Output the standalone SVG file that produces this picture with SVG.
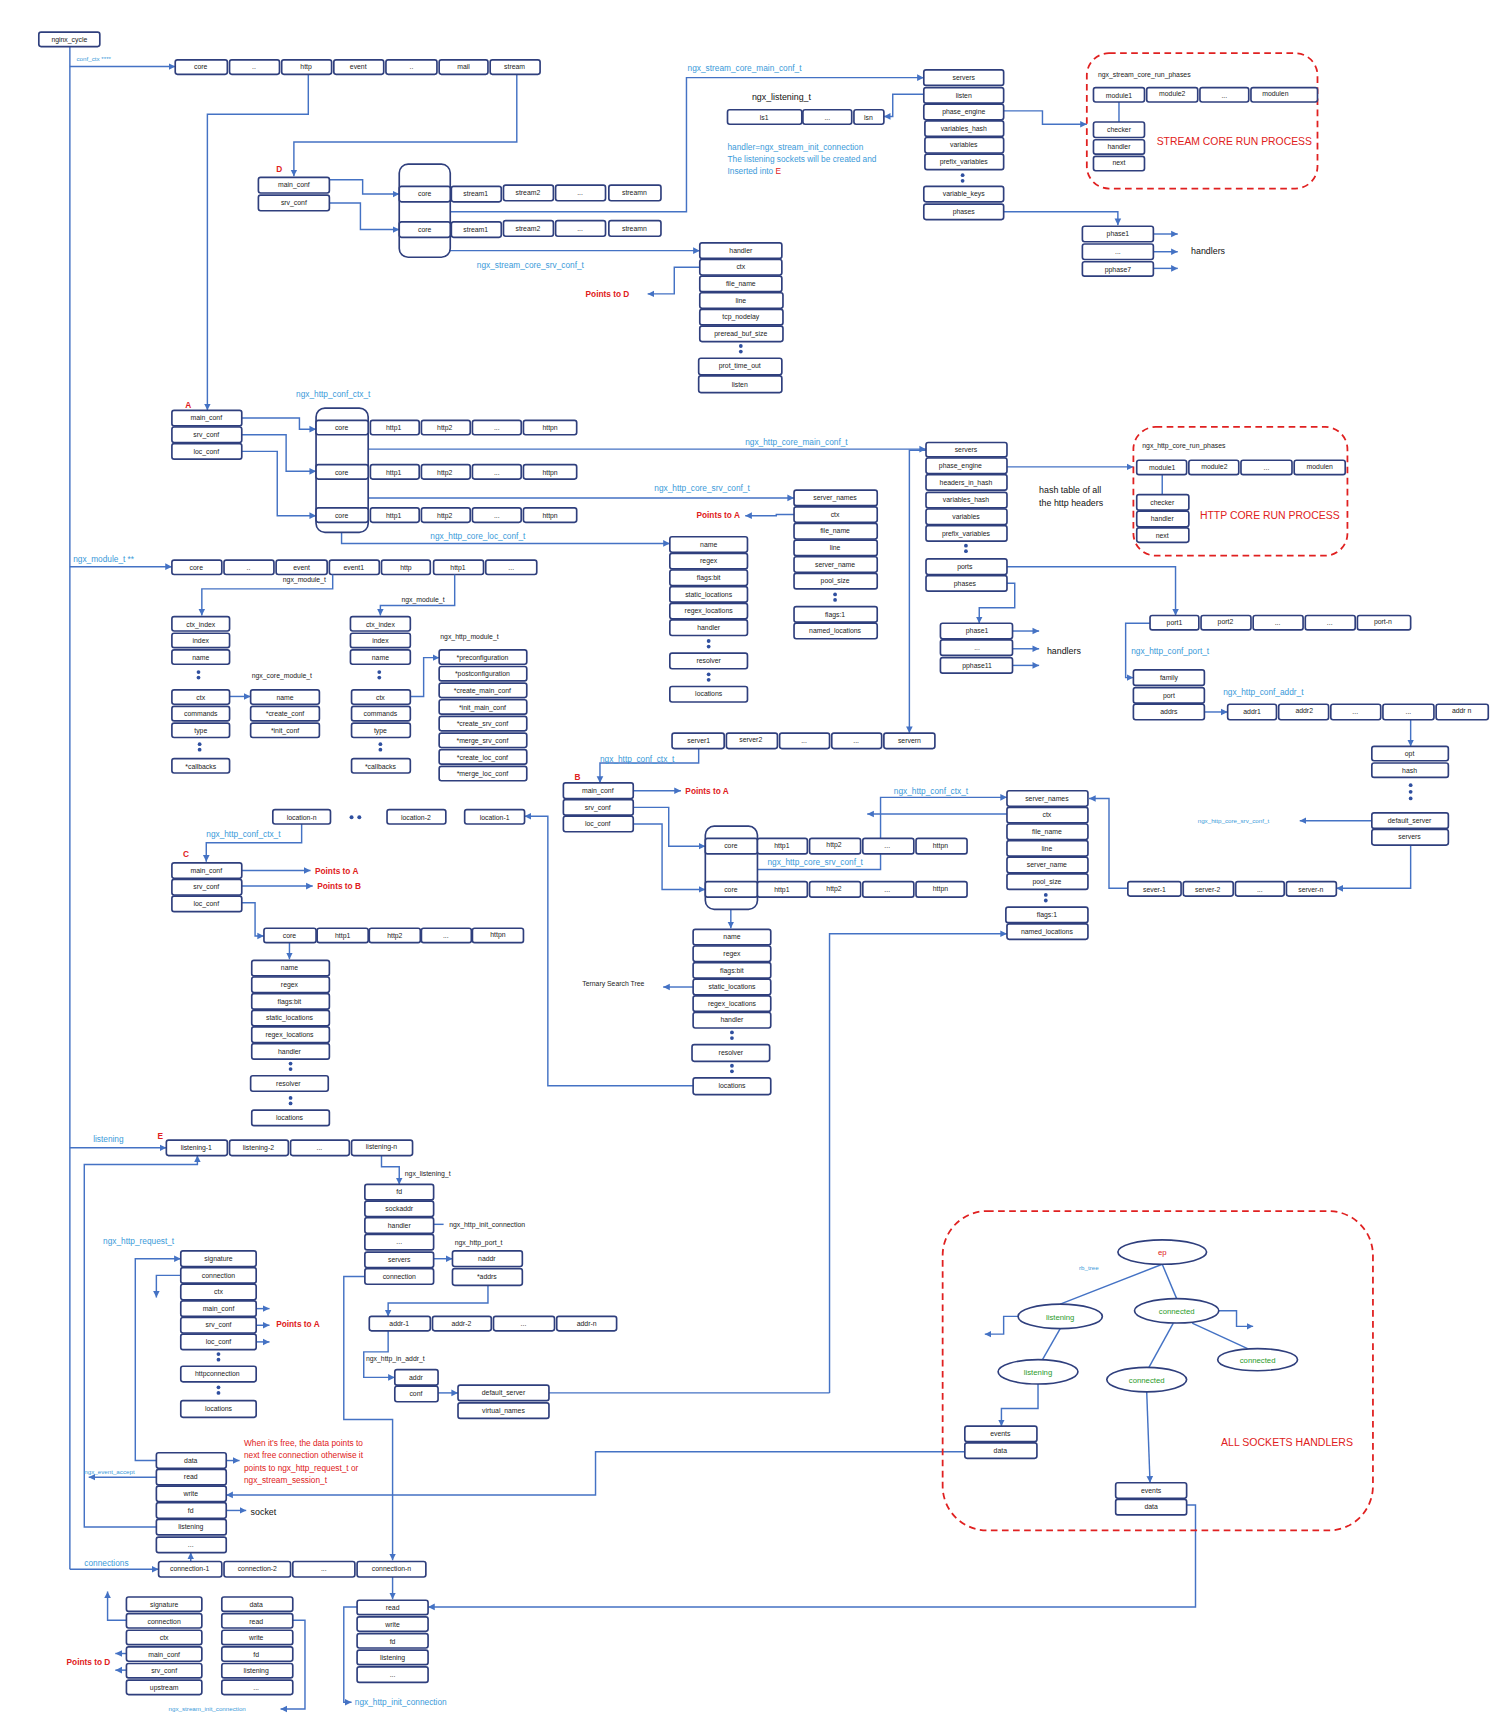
<svg xmlns="http://www.w3.org/2000/svg" width="1508" height="1736" viewBox="0 0 1508 1736">
<style>
rect.b{fill:#fff;stroke:#2f3f7d;stroke-width:1.5}
text{font-family:"Liberation Sans",Arial,sans-serif}
.t{font-size:6.2px;fill:#222;text-anchor:middle}
.k{font-size:6.2px;fill:#222}
.bl{font-size:7.5px;fill:#3a9ad9}
.sb{font-size:5.6px;fill:#3a9ad9}
.rd{font-size:7.5px;fill:#e02020;font-weight:bold}
.rn{font-size:7.5px;fill:#e02020}
.big{font-size:10.5px;fill:#e02020}
.hd{font-size:8px;fill:#111}
.g{font-size:7px;fill:#2a9a2a;text-anchor:middle}
path.c{fill:none;stroke:#4472c4;stroke-width:1.3}
path.a{fill:none;stroke:#4472c4;stroke-width:1.3;marker-end:url(#ar)}
circle.d{fill:#2f4f9f}
.dash{fill:none;stroke:#e02020;stroke-width:1.6;stroke-dasharray:6 4}
ellipse.e{fill:#fff;stroke:#2f3f7d;stroke-width:1.5}
</style>
<defs><marker id="ar" markerUnits="userSpaceOnUse" markerWidth="7" markerHeight="7" refX="6" refY="3.5" orient="auto"><path d="M0,0.5 L6,3.5 L0,6.5 z" fill="#4472c4"/></marker></defs>
<rect width="1508" height="1736" fill="#fff"/>
<g transform="scale(1.109)">
<g id="connectors">
<path class="c" d="M63,42 V1415"/>
<path class="a" d="M63,60 H158"/>
<path class="a" d="M63,511 H155"/>
<path class="a" d="M63,1035 H150"/>
<path class="a" d="M63,1415 H143"/>
<path class="a" d="M278,67 V103 H187 V370"/>
<path class="a" d="M466,67 V128 H265 V159"/>
<path class="a" d="M297,162 H327 V175 H360"/>
<path class="a" d="M297,183 H325 V207 H360"/>
<path class="a" d="M383,182 V191 H619 V70 H833"/>
<path class="a" d="M383,214 V226 H631"/>
<path class="a" d="M631,241 H608 V265 H584"/>
<path class="a" d="M833,85 H805 V105 H797"/>
<path class="a" d="M905,100 H940 V112 H980"/>
<path class="c" d="M1009,92 V110"/>
<path class="a" d="M905,191 H1008 V203"/>
<path class="a" d="M1040,211 H1062"/><path class="a" d="M1040,227 H1062"/><path class="a" d="M1040,242 H1062"/>
<path class="a" d="M218,377 H270 V387 H285"/>
<path class="a" d="M218,392 H258 V425 H285"/>
<path class="a" d="M218,407 H250 V465 H285"/>
<path class="a" d="M308,392 V405 H835"/>
<path class="a" d="M308,432 V449 H716"/>
<path class="a" d="M308,471 V490 H604"/>
<path class="a" d="M716,464 H700 V465 H672"/>
<path class="a" d="M908,421 H1022"/>
<path class="c" d="M1048,428 V446"/>
<path class="a" d="M908,526 H915 V548 H883 V562"/>
<path class="a" d="M913,569 H937"/><path class="a" d="M913,585 H937"/><path class="a" d="M913,600 H937"/>
<path class="a" d="M908,511 H1060 V555"/>
<path class="a" d="M1037,562 H1015 V611 H1022"/>
<path class="a" d="M1086,642 H1107"/>
<path class="a" d="M1272,649 V673"/>
<path class="a" d="M1237,740 H1172"/>
<path class="a" d="M1272,762 V801 H1205"/>
<path class="a" d="M1017,801 H1000 V720 H982"/>
<path class="a" d="M835,406 H820 V661"/>
<path class="a" d="M630,675 V688 H541 V706"/>
<path class="a" d="M571,713 H614"/>
<path class="a" d="M571,728 H603 V763 H636"/>
<path class="a" d="M571,743 H597 V802 H636"/>
<path class="a" d="M659,770 V784 H794 V719 H908"/>
<path class="a" d="M908,734 H782"/>
<path class="a" d="M659,809 V837"/>
<path class="a" d="M625,890 H598"/>
<path class="a" d="M625,979 H494 V736 H473"/>
<path class="a" d="M272,743 V760 H186 V777"/>
<path class="a" d="M218,785 H280"/>
<path class="a" d="M218,799 H282"/>
<path class="a" d="M218,814 H230 V844 H238"/>
<path class="a" d="M261,850 V865"/>
<path class="a" d="M748,1256 V842 H908" />
<path class="c" d="M495,1256 H748"/>
<path class="a" d="M344,1042 V1052 H360 V1068"/>
<path class="c" d="M391,1104 H400"/>
<path class="a" d="M391,1135 H408"/>
<path class="a" d="M440,1158 V1175 H350 V1187"/>
<path class="a" d="M350,1200 V1219 H328 V1242 H356"/>
<path class="a" d="M395,1256 H413"/>
<path class="a" d="M329,1151 H310 V1280 H354 V1407"/>
<path class="a" d="M231,1180 H243"/><path class="a" d="M231,1195 H243"/><path class="a" d="M231,1210 H243"/>
<path class="a" d="M163,1150 H141 V1170"/>
<path class="a" d="M141,1317 H122 V1135 H163"/>
<path class="a" d="M204,1317 H216"/>
<path class="a" d="M141,1332 H80"/>
<path class="a" d="M870,1309 H537 V1348 H204"/>
<path class="a" d="M204,1362 H222"/>
<path class="a" d="M141,1377 H76 V1050 H178 V1042"/>
<path class="a" d="M172,1408 V1400"/>
<path class="a" d="M114,1461 H97 V1435"/>
<path class="a" d="M114,1491 H104"/>
<path class="a" d="M114,1506 H104"/>
<path class="a" d="M264,1461 H275 V1541 H253"/>
<path class="a" d="M354,1422 V1442"/>
<path class="a" d="M1070,1357 H1078 V1449 H386"/>
<path class="a" d="M322,1449 H310 V1535 H317"/>
<path class="c" d="M1048,1140 L956,1176"/>
<path class="c" d="M1048,1140 L1061,1171"/>
<path class="a" d="M918,1187 H905 V1203 H888"/>
<path class="a" d="M1099,1182 H1115 V1196 H1130"/>
<path class="c" d="M1075,1193 L1125,1216"/>
<path class="c" d="M1058,1193 L1036,1233"/>
<path class="c" d="M956,1198 L940,1226"/>
<path class="a" d="M936,1248 V1270 H903 V1286"/>
<path class="a" d="M1034,1255 L1037,1337"/>
</g>

<g id="nginx_cycle"><rect class="b" x="35" y="29" width="55" height="13" rx="2"/><text class="t" x="62.5" y="37.5">nginx_cycle</text></g>
<text class="sb" x="69" y="55">conf_ctx ****</text>
<g id="conf_ctx">
<rect class="b" x="158" y="54" width="47" height="13" rx="2"/><text class="t" x="181" y="62.5">core</text>
<rect class="b" x="207" y="54" width="45" height="13" rx="2"/><text class="t" x="229" y="62.5">..</text>
<rect class="b" x="254" y="54" width="45" height="13" rx="2"/><text class="t" x="276" y="62.5">http</text>
<rect class="b" x="301" y="54" width="45" height="13" rx="2"/><text class="t" x="323" y="62.5">event</text>
<rect class="b" x="348" y="54" width="46" height="13" rx="2"/><text class="t" x="371" y="62.5">..</text>
<rect class="b" x="396" y="54" width="44" height="13" rx="2"/><text class="t" x="418" y="62.5">mail</text>
<rect class="b" x="442" y="54" width="45" height="13" rx="2"/><text class="t" x="464" y="62.5">stream</text>
</g>

<text class="rd" x="249" y="155">D</text>
<g id="stream_ctx_D">
<rect class="b" x="233" y="160" width="64" height="14" rx="2"/><text class="t" x="265" y="169">main_conf</text>
<rect class="b" x="233" y="176" width="64" height="14" rx="2"/><text class="t" x="265" y="185">srv_conf</text>
</g>
<g id="stream_conf">
<rect class="b" x="360" y="148" width="46" height="84" rx="8"/>
<rect class="b" x="360" y="168" width="46" height="14" rx="2"/><text class="t" x="383" y="177">core</text>
<rect class="b" x="407" y="168" width="45" height="14" rx="2"/><text class="t" x="429" y="177">stream1</text>
<rect class="b" x="454" y="167" width="45" height="14" rx="2"/><text class="t" x="476" y="176">stream2</text>
<rect class="b" x="501" y="167" width="45" height="14" rx="2"/><text class="t" x="523" y="176">...</text>
<rect class="b" x="549" y="167" width="47" height="14" rx="2"/><text class="t" x="572" y="176">streamn</text>
<rect class="b" x="360" y="200" width="46" height="14" rx="2"/><text class="t" x="383" y="209">core</text>
<rect class="b" x="407" y="200" width="45" height="14" rx="2"/><text class="t" x="429" y="209">stream1</text>
<rect class="b" x="454" y="199" width="45" height="14" rx="2"/><text class="t" x="476" y="208">stream2</text>
<rect class="b" x="501" y="199" width="45" height="14" rx="2"/><text class="t" x="523" y="208">...</text>
<rect class="b" x="549" y="199" width="47" height="14" rx="2"/><text class="t" x="572" y="208">streamn</text>
</g>
<text class="bl" x="620" y="64">ngx_stream_core_main_conf_t</text>
<text class="bl" x="430" y="242">ngx_stream_core_srv_conf_t</text>
<text class="rd" x="528" y="268">Points to D</text>

<g id="stream_srv_conf">
<rect class="b" x="631" y="219" width="74" height="14" rx="2"/><text class="t" x="668" y="228">handler</text>
<rect class="b" x="631" y="234" width="74" height="14" rx="2"/><text class="t" x="668" y="243">ctx</text>
<rect class="b" x="631" y="249" width="74" height="14" rx="2"/><text class="t" x="668" y="258">file_name</text>
<rect class="b" x="631" y="264" width="75" height="14" rx="2"/><text class="t" x="668" y="273">line</text>
<rect class="b" x="631" y="279" width="75" height="14" rx="2"/><text class="t" x="668" y="288">tcp_nodelay</text>
<rect class="b" x="631" y="294" width="75" height="14" rx="2"/><text class="t" x="668" y="303">preread_buf_size</text>
<circle class="d" cx="668" cy="312" r="1.7"/><circle class="d" cx="668" cy="317" r="1.7"/>
<rect class="b" x="630" y="323" width="75" height="15" rx="2"/><text class="t" x="667" y="332">prot_time_out</text>
<rect class="b" x="630" y="339" width="75" height="15" rx="2"/><text class="t" x="667" y="349">listen</text>
</g>

<text class="hd" x="678" y="90">ngx_listening_t</text>
<g id="stream_listening">
<rect class="b" x="656" y="99" width="67" height="13" rx="2"/><text class="t" x="689" y="108">ls1</text>
<rect class="b" x="724" y="99" width="44" height="13" rx="2"/><text class="t" x="746" y="108">...</text>
<rect class="b" x="770" y="99" width="27" height="13" rx="2"/><text class="t" x="783" y="108">lsn</text>
</g>
<text class="bl" x="656" y="135">handler=ngx_stream_init_connection</text>
<text class="bl" x="656" y="146">The listening sockets will be created and</text>
<text class="bl" x="656" y="157">Inserted into <tspan fill="#e02020">E</tspan></text>

<g id="stream_main_conf">
<rect class="b" x="833" y="63" width="72" height="14" rx="2"/><text class="t" x="869" y="72">servers</text>
<rect class="b" x="833" y="79" width="72" height="14" rx="2"/><text class="t" x="869" y="88">listen</text>
<rect class="b" x="833" y="94" width="72" height="14" rx="2"/><text class="t" x="869" y="103">phase_engine</text>
<rect class="b" x="834" y="109" width="71" height="14" rx="2"/><text class="t" x="869" y="118">variables_hash</text>
<rect class="b" x="834" y="124" width="71" height="14" rx="2"/><text class="t" x="869" y="133">variables</text>
<rect class="b" x="834" y="139" width="71" height="14" rx="2"/><text class="t" x="869" y="148">prefix_variables</text>
<circle class="d" cx="868" cy="158" r="1.7"/><circle class="d" cx="868" cy="163" r="1.7"/>
<rect class="b" x="833" y="168" width="72" height="14" rx="2"/><text class="t" x="869" y="177">variable_keys</text>
<rect class="b" x="833" y="184" width="72" height="14" rx="2"/><text class="t" x="869" y="193">phases</text>
</g>

<g id="stream_run_phases">
<rect class="dash" x="980" y="48" width="208" height="122" rx="20"/>
<text class="k" x="990" y="69" font-size="5.8">ngx_stream_core_run_phases</text>
<rect class="b" x="986" y="79" width="46" height="13" rx="2"/><text class="t" x="1009" y="88">module1</text>
<rect class="b" x="1034" y="79" width="46" height="13" rx="2"/><text class="t" x="1057" y="87">module2</text>
<rect class="b" x="1082" y="79" width="44" height="13" rx="2"/><text class="t" x="1104" y="88">...</text>
<rect class="b" x="1128" y="79" width="60" height="13" rx="2"/><text class="t" x="1150" y="87">modulen</text>
<rect class="b" x="986" y="110" width="46" height="14" rx="2"/><text class="t" x="1009" y="119">checker</text>
<rect class="b" x="986" y="126" width="46" height="13" rx="2"/><text class="t" x="1009" y="134">handler</text>
<rect class="b" x="986" y="141" width="46" height="13" rx="2"/><text class="t" x="1009" y="149">next</text>
<text class="big" x="1043" y="131" textLength="140" lengthAdjust="spacingAndGlyphs">STREAM CORE RUN PROCESS</text>
</g>
<g id="stream_phases">
<rect class="b" x="976" y="204" width="64" height="14" rx="2"/><text class="t" x="1008" y="213">phase1</text>
<rect class="b" x="976" y="220" width="64" height="14" rx="2"/><text class="t" x="1008" y="229">...</text>
<rect class="b" x="976" y="236" width="64" height="13" rx="2"/><text class="t" x="1008" y="245">pphase7</text>
<text class="hd" x="1074" y="229">handlers</text>
</g>

<text class="bl" x="267" y="358">ngx_http_conf_ctx_t</text>
<text class="rd" x="167" y="368">A</text>
<g id="http_ctx_A">
<rect class="b" x="155" y="370" width="63" height="14" rx="2"/><text class="t" x="186" y="379">main_conf</text>
<rect class="b" x="155" y="385" width="63" height="14" rx="2"/><text class="t" x="186" y="394">srv_conf</text>
<rect class="b" x="155" y="400" width="63" height="14" rx="2"/><text class="t" x="186" y="409">loc_conf</text>
</g>
<g id="http_conf_A">
<rect class="b" x="285" y="368" width="47" height="112" rx="8"/>
<rect class="b" x="285" y="379" width="47" height="13" rx="2"/><text class="t" x="308" y="388">core</text>
<rect class="b" x="334" y="379" width="44" height="13" rx="2"/><text class="t" x="355" y="388">http1</text>
<rect class="b" x="380" y="379" width="44" height="13" rx="2"/><text class="t" x="401" y="388">http2</text>
<rect class="b" x="426" y="379" width="44" height="13" rx="2"/><text class="t" x="448" y="388">...</text>
<rect class="b" x="472" y="379" width="48" height="13" rx="2"/><text class="t" x="496" y="388">httpn</text>
<rect class="b" x="285" y="419" width="47" height="13" rx="2"/><text class="t" x="308" y="428">core</text>
<rect class="b" x="334" y="419" width="44" height="13" rx="2"/><text class="t" x="355" y="428">http1</text>
<rect class="b" x="380" y="419" width="44" height="13" rx="2"/><text class="t" x="401" y="428">http2</text>
<rect class="b" x="426" y="419" width="44" height="13" rx="2"/><text class="t" x="448" y="428">...</text>
<rect class="b" x="472" y="419" width="48" height="13" rx="2"/><text class="t" x="496" y="428">httpn</text>
<rect class="b" x="285" y="458" width="47" height="13" rx="2"/><text class="t" x="308" y="467">core</text>
<rect class="b" x="334" y="458" width="44" height="13" rx="2"/><text class="t" x="355" y="467">http1</text>
<rect class="b" x="380" y="458" width="44" height="13" rx="2"/><text class="t" x="401" y="467">http2</text>
<rect class="b" x="426" y="458" width="44" height="13" rx="2"/><text class="t" x="448" y="467">...</text>
<rect class="b" x="472" y="458" width="48" height="13" rx="2"/><text class="t" x="496" y="467">httpn</text>
</g>
<text class="bl" x="672" y="401">ngx_http_core_main_conf_t</text>
<text class="bl" x="590" y="443">ngx_http_core_srv_conf_t</text>
<text class="bl" x="388" y="486">ngx_http_core_loc_conf_t</text>
<text class="rd" x="628" y="467">Points to A</text>

<g id="http_srv_conf_1">
<rect class="b" x="716" y="442" width="75" height="14" rx="2"/><text class="t" x="753" y="451">server_names</text>
<rect class="b" x="716" y="457" width="75" height="14" rx="2"/><text class="t" x="753" y="466">ctx</text>
<rect class="b" x="716" y="472" width="75" height="14" rx="2"/><text class="t" x="753" y="481">file_name</text>
<rect class="b" x="716" y="487" width="75" height="14" rx="2"/><text class="t" x="753" y="496">line</text>
<rect class="b" x="716" y="502" width="75" height="14" rx="2"/><text class="t" x="753" y="511">server_name</text>
<rect class="b" x="716" y="517" width="75" height="14" rx="2"/><text class="t" x="753" y="526">pool_size</text>
<circle class="d" cx="753" cy="536" r="1.7"/><circle class="d" cx="753" cy="541" r="1.7"/>
<rect class="b" x="716" y="547" width="75" height="14" rx="2"/><text class="t" x="753" y="556">flags:1</text>
<rect class="b" x="716" y="562" width="75" height="14" rx="2"/><text class="t" x="753" y="571">named_locations</text>
</g>
<g id="http_loc_conf_1">
<rect class="b" x="604" y="484" width="70" height="14" rx="2"/><text class="t" x="639" y="493">name</text>
<rect class="b" x="604" y="499" width="70" height="14" rx="2"/><text class="t" x="639" y="508">regex</text>
<rect class="b" x="604" y="514" width="70" height="14" rx="2"/><text class="t" x="639" y="523">flags:bit</text>
<rect class="b" x="604" y="529" width="70" height="14" rx="2"/><text class="t" x="639" y="538">static_locations</text>
<rect class="b" x="604" y="544" width="70" height="14" rx="2"/><text class="t" x="639" y="553">regex_locations</text>
<rect class="b" x="604" y="559" width="70" height="14" rx="2"/><text class="t" x="639" y="568">handler</text>
<circle class="d" cx="639" cy="578" r="1.7"/><circle class="d" cx="639" cy="583" r="1.7"/>
<rect class="b" x="604" y="589" width="70" height="14" rx="2"/><text class="t" x="639" y="598">resolver</text>
<circle class="d" cx="639" cy="608" r="1.7"/><circle class="d" cx="639" cy="613" r="1.7"/>
<rect class="b" x="604" y="619" width="70" height="14" rx="2"/><text class="t" x="639" y="628">locations</text>
</g>
<g id="http_main_conf">
<rect class="b" x="835" y="399" width="73" height="13" rx="2"/><text class="t" x="871" y="408">servers</text>
<rect class="b" x="835" y="413" width="73" height="14" rx="2"/><text class="t" x="866" y="422">phase_engine</text>
<rect class="b" x="835" y="428" width="73" height="14" rx="2"/><text class="t" x="871" y="437">headers_in_hash</text>
<rect class="b" x="835" y="444" width="73" height="14" rx="2"/><text class="t" x="871" y="453">variables_hash</text>
<rect class="b" x="835" y="459" width="73" height="14" rx="2"/><text class="t" x="871" y="468">variables</text>
<rect class="b" x="835" y="474" width="73" height="14" rx="2"/><text class="t" x="871" y="483">prefix_variables</text>
<circle class="d" cx="871" cy="492" r="1.7"/><circle class="d" cx="871" cy="497" r="1.7"/>
<rect class="b" x="835" y="504" width="73" height="14" rx="2"/><text class="t" x="870" y="513">ports</text>
<rect class="b" x="835" y="519" width="73" height="14" rx="2"/><text class="t" x="870" y="528">phases</text>
</g>
<text class="hd" x="937" y="445">hash table of all</text>
<text class="hd" x="937" y="456">the http headers</text>

<g id="http_run_phases">
<rect class="dash" x="1022" y="385" width="193" height="116" rx="20"/>
<text class="k" x="1030" y="404" font-size="5.8">ngx_http_core_run_phases</text>
<rect class="b" x="1025" y="415" width="45" height="13" rx="2"/><text class="t" x="1048" y="424">module1</text>
<rect class="b" x="1072" y="415" width="45" height="13" rx="2"/><text class="t" x="1095" y="423">module2</text>
<rect class="b" x="1119" y="415" width="46" height="13" rx="2"/><text class="t" x="1142" y="424">...</text>
<rect class="b" x="1167" y="415" width="46" height="13" rx="2"/><text class="t" x="1190" y="423">modulen</text>
<rect class="b" x="1025" y="446" width="47" height="14" rx="2"/><text class="t" x="1048" y="455">checker</text>
<rect class="b" x="1025" y="461" width="47" height="14" rx="2"/><text class="t" x="1048" y="470">handler</text>
<rect class="b" x="1025" y="476" width="47" height="13" rx="2"/><text class="t" x="1048" y="485">next</text>
<text class="big" x="1082" y="468" textLength="126" lengthAdjust="spacingAndGlyphs">HTTP CORE RUN PROCESS</text>
</g>
<g id="http_phases">
<rect class="b" x="848" y="562" width="65" height="14" rx="2"/><text class="t" x="881" y="571">phase1</text>
<rect class="b" x="848" y="577" width="65" height="14" rx="2"/><text class="t" x="881" y="586">...</text>
<rect class="b" x="848" y="593" width="65" height="14" rx="2"/><text class="t" x="881" y="602">pphase11</text>
<text class="hd" x="944" y="590">handlers</text>
</g>
<g id="ports">
<rect class="b" x="1037" y="555" width="44" height="13" rx="2"/><text class="t" x="1059" y="564">port1</text>
<rect class="b" x="1083" y="555" width="45" height="13" rx="2"/><text class="t" x="1105" y="563">port2</text>
<rect class="b" x="1130" y="555" width="45" height="13" rx="2"/><text class="t" x="1152" y="564">...</text>
<rect class="b" x="1177" y="555" width="45" height="13" rx="2"/><text class="t" x="1199" y="564">...</text>
<rect class="b" x="1224" y="555" width="48" height="13" rx="2"/><text class="t" x="1247" y="563">port-n</text>
</g>
<text class="bl" x="1020" y="590">ngx_http_conf_port_t</text>
<g id="conf_port">
<rect class="b" x="1022" y="604" width="64" height="14" rx="2"/><text class="t" x="1054" y="613">family</text>
<rect class="b" x="1022" y="620" width="64" height="14" rx="2"/><text class="t" x="1054" y="629">port</text>
<rect class="b" x="1022" y="635" width="64" height="14" rx="2"/><text class="t" x="1054" y="644">addrs</text>
</g>
<text class="bl" x="1103" y="627">ngx_http_conf_addr_t</text>
<g id="addrs">
<rect class="b" x="1107" y="635" width="44" height="14" rx="2"/><text class="t" x="1129" y="644">addr1</text>
<rect class="b" x="1153" y="635" width="45" height="14" rx="2"/><text class="t" x="1176" y="643">addr2</text>
<rect class="b" x="1200" y="635" width="45" height="14" rx="2"/><text class="t" x="1222" y="644">...</text>
<rect class="b" x="1247" y="635" width="46" height="14" rx="2"/><text class="t" x="1270" y="644">...</text>
<rect class="b" x="1295" y="635" width="47" height="14" rx="2"/><text class="t" x="1318" y="643">addr n</text>
</g>
<g id="conf_addr">
<rect class="b" x="1237" y="673" width="69" height="13" rx="2"/><text class="t" x="1271" y="682">opt</text>
<rect class="b" x="1237" y="688" width="69" height="13" rx="2"/><text class="t" x="1271" y="697">hash</text>
<circle class="d" cx="1272" cy="708" r="1.7"/><circle class="d" cx="1272" cy="714" r="1.7"/><circle class="d" cx="1272" cy="720" r="1.7"/>
<rect class="b" x="1237" y="733" width="69" height="14" rx="2"/><text class="t" x="1271" y="742">default_server</text>
<rect class="b" x="1237" y="748" width="69" height="14" rx="2"/><text class="t" x="1271" y="757">servers</text>
</g>
<text class="sb" x="1080" y="742">ngx_http_core_srv_conf_t</text>
<g id="servers_2">
<rect class="b" x="1017" y="795" width="48" height="13" rx="2"/><text class="t" x="1041" y="804">sever-1</text>
<rect class="b" x="1067" y="795" width="45" height="13" rx="2"/><text class="t" x="1089" y="804">server-2</text>
<rect class="b" x="1114" y="795" width="44" height="13" rx="2"/><text class="t" x="1136" y="804">...</text>
<rect class="b" x="1160" y="795" width="45" height="13" rx="2"/><text class="t" x="1182" y="804">server-n</text>
</g>
<g id="http_srv_conf_2">
<rect class="b" x="908" y="713" width="73" height="14" rx="2"/><text class="t" x="944" y="722">server_names</text>
<rect class="b" x="908" y="728" width="73" height="14" rx="2"/><text class="t" x="944" y="737">ctx</text>
<rect class="b" x="908" y="743" width="73" height="14" rx="2"/><text class="t" x="944" y="752">file_name</text>
<rect class="b" x="908" y="758" width="73" height="14" rx="2"/><text class="t" x="944" y="767">line</text>
<rect class="b" x="908" y="773" width="73" height="14" rx="2"/><text class="t" x="944" y="782">server_name</text>
<rect class="b" x="908" y="788" width="73" height="14" rx="2"/><text class="t" x="944" y="797">pool_size</text>
<circle class="d" cx="943" cy="807" r="1.7"/><circle class="d" cx="943" cy="812" r="1.7"/>
<rect class="b" x="907" y="818" width="74" height="14" rx="2"/><text class="t" x="944" y="827">flags:1</text>
<rect class="b" x="908" y="833" width="73" height="14" rx="2"/><text class="t" x="944" y="842">named_locations</text>
</g>
<g id="servers_1">
<rect class="b" x="606" y="661" width="47" height="14" rx="2"/><text class="t" x="630" y="670">server1</text>
<rect class="b" x="655" y="661" width="46" height="14" rx="2"/><text class="t" x="677" y="669">server2</text>
<rect class="b" x="703" y="661" width="45" height="14" rx="2"/><text class="t" x="725" y="670">...</text>
<rect class="b" x="750" y="661" width="45" height="14" rx="2"/><text class="t" x="772" y="670">...</text>
<rect class="b" x="797" y="661" width="46" height="14" rx="2"/><text class="t" x="820" y="670">servern</text>
</g>
<text class="bl" x="541" y="687">ngx_http_conf_ctx_t</text>
<text class="rd" x="518" y="703">B</text>
<g id="http_ctx_B">
<rect class="b" x="508" y="706" width="63" height="14" rx="2"/><text class="t" x="539" y="715">main_conf</text>
<rect class="b" x="508" y="721" width="63" height="14" rx="2"/><text class="t" x="539" y="730">srv_conf</text>
<rect class="b" x="508" y="736" width="63" height="14" rx="2"/><text class="t" x="539" y="745">loc_conf</text>
</g>
<text class="rd" x="618" y="716">Points to A</text>
<text class="bl" x="806" y="716">ngx_http_conf_ctx_t</text>
<text class="bl" x="692" y="780">ngx_http_core_srv_conf_t</text>
<g id="http_conf_B">
<rect class="b" x="636" y="745" width="47" height="75" rx="8"/>
<rect class="b" x="636" y="756" width="47" height="14" rx="2"/><text class="t" x="659" y="765">core</text>
<rect class="b" x="683" y="756" width="45" height="14" rx="2"/><text class="t" x="705" y="765">http1</text>
<rect class="b" x="730" y="756" width="46" height="14" rx="2"/><text class="t" x="752" y="764">http2</text>
<rect class="b" x="778" y="756" width="46" height="14" rx="2"/><text class="t" x="800" y="765">...</text>
<rect class="b" x="826" y="756" width="46" height="14" rx="2"/><text class="t" x="848" y="765">httpn</text>
<rect class="b" x="636" y="795" width="47" height="14" rx="2"/><text class="t" x="659" y="804">core</text>
<rect class="b" x="683" y="795" width="45" height="14" rx="2"/><text class="t" x="705" y="804">http1</text>
<rect class="b" x="730" y="795" width="46" height="14" rx="2"/><text class="t" x="752" y="803">http2</text>
<rect class="b" x="778" y="795" width="46" height="14" rx="2"/><text class="t" x="800" y="804">...</text>
<rect class="b" x="826" y="795" width="46" height="14" rx="2"/><text class="t" x="848" y="803">httpn</text>
</g>
<g id="http_loc_conf_2">
<rect class="b" x="625" y="838" width="70" height="14" rx="2"/><text class="t" x="660" y="847">name</text>
<rect class="b" x="625" y="853" width="70" height="14" rx="2"/><text class="t" x="660" y="862">regex</text>
<rect class="b" x="625" y="868" width="70" height="14" rx="2"/><text class="t" x="660" y="877">flags:bit</text>
<rect class="b" x="625" y="883" width="70" height="14" rx="2"/><text class="t" x="660" y="892">static_locations</text>
<rect class="b" x="625" y="898" width="70" height="14" rx="2"/><text class="t" x="660" y="907">regex_locations</text>
<rect class="b" x="625" y="913" width="70" height="14" rx="2"/><text class="t" x="660" y="922">handler</text>
<circle class="d" cx="660" cy="931" r="1.7"/><circle class="d" cx="660" cy="936" r="1.7"/>
<rect class="b" x="624" y="942" width="70" height="15" rx="2"/><text class="t" x="659" y="951">resolver</text>
<circle class="d" cx="660" cy="961" r="1.7"/><circle class="d" cx="660" cy="966" r="1.7"/>
<rect class="b" x="625" y="972" width="70" height="15" rx="2"/><text class="t" x="660" y="981">locations</text>
</g>
<text class="k" x="525" y="889">Ternary Search Tree</text>
<g id="locations_row">
<rect class="b" x="246" y="730" width="52" height="13" rx="2"/><text class="t" x="272" y="739">location-n</text>
<circle class="d" cx="317" cy="737" r="1.8"/><circle class="d" cx="324" cy="737" r="1.8"/>
<rect class="b" x="349" y="730" width="53" height="13" rx="2"/><text class="t" x="375" y="739">location-2</text>
<rect class="b" x="419" y="730" width="54" height="13" rx="2"/><text class="t" x="446" y="739">location-1</text>
</g>
<text class="bl" x="186" y="755">ngx_http_conf_ctx_t</text>
<text class="rd" x="165" y="773">C</text>
<g id="http_ctx_C">
<rect class="b" x="155" y="778" width="63" height="14" rx="2"/><text class="t" x="186" y="787">main_conf</text>
<rect class="b" x="155" y="793" width="63" height="14" rx="2"/><text class="t" x="186" y="802">srv_conf</text>
<rect class="b" x="155" y="808" width="63" height="14" rx="2"/><text class="t" x="186" y="817">loc_conf</text>
</g>
<text class="rd" x="284" y="788">Points to A</text>
<text class="rd" x="286" y="802">Points to B</text>
<g id="http_conf_C">
<rect class="b" x="238" y="837" width="47" height="13" rx="2"/><text class="t" x="261" y="846">core</text>
<rect class="b" x="286" y="837" width="46" height="13" rx="2"/><text class="t" x="309" y="846">http1</text>
<rect class="b" x="333" y="837" width="46" height="13" rx="2"/><text class="t" x="356" y="846">http2</text>
<rect class="b" x="380" y="837" width="45" height="13" rx="2"/><text class="t" x="402" y="846">...</text>
<rect class="b" x="426" y="837" width="46" height="13" rx="2"/><text class="t" x="449" y="845">httpn</text>
</g>
<g id="http_loc_conf_3">
<rect class="b" x="227" y="866" width="70" height="14" rx="2"/><text class="t" x="261" y="875">name</text>
<rect class="b" x="227" y="881" width="70" height="14" rx="2"/><text class="t" x="261" y="890">regex</text>
<rect class="b" x="227" y="896" width="70" height="14" rx="2"/><text class="t" x="261" y="905">flags:bit</text>
<rect class="b" x="227" y="911" width="70" height="14" rx="2"/><text class="t" x="261" y="920">static_locations</text>
<rect class="b" x="227" y="926" width="70" height="14" rx="2"/><text class="t" x="261" y="935">regex_locations</text>
<rect class="b" x="227" y="941" width="70" height="14" rx="2"/><text class="t" x="261" y="950">handler</text>
<circle class="d" cx="262" cy="959" r="1.7"/><circle class="d" cx="262" cy="964" r="1.7"/>
<rect class="b" x="226" y="970" width="70" height="14" rx="2"/><text class="t" x="260" y="979">resolver</text>
<circle class="d" cx="262" cy="990" r="1.7"/><circle class="d" cx="262" cy="995" r="1.7"/>
<rect class="b" x="227" y="1001" width="70" height="14" rx="2"/><text class="t" x="261" y="1010">locations</text>
</g>

<text class="bl" x="66" y="507">ngx_module_t **</text>
<g id="modules_row">
<rect class="b" x="155" y="505" width="45" height="13" rx="2"/><text class="t" x="177" y="514">core</text>
<rect class="b" x="202" y="505" width="45" height="13" rx="2"/><text class="t" x="224" y="514">..</text>
<rect class="b" x="249" y="505" width="46" height="13" rx="2"/><text class="t" x="272" y="514">event</text>
<rect class="b" x="297" y="505" width="45" height="13" rx="2"/><text class="t" x="319" y="514">event1</text>
<rect class="b" x="344" y="505" width="44" height="13" rx="2"/><text class="t" x="366" y="514">http</text>
<rect class="b" x="391" y="505" width="45" height="13" rx="2"/><text class="t" x="413" y="514">http1</text>
<rect class="b" x="438" y="505" width="46" height="13" rx="2"/><text class="t" x="461" y="514">...</text>
</g>
<text class="k" x="255" y="525">ngx_module_t</text>
<text class="k" x="362" y="543">ngx_module_t</text>
<path class="a" d="M300,518 V531 H182 V555"/>
<path class="a" d="M410,518 V546 H343 V555"/>
<path class="a" d="M207,628 H226"/>
<path class="a" d="M370,628 H382 V593 H396"/>
<g id="module_1">
<rect class="b" x="155" y="556" width="52" height="13" rx="2"/><text class="t" x="181" y="565">ctx_index</text>
<rect class="b" x="155" y="571" width="52" height="13" rx="2"/><text class="t" x="181" y="580">index</text>
<rect class="b" x="155" y="586" width="52" height="13" rx="2"/><text class="t" x="181" y="595">name</text>
<circle class="d" cx="179" cy="606" r="1.7"/><circle class="d" cx="179" cy="611" r="1.7"/>
<rect class="b" x="155" y="622" width="52" height="13" rx="2"/><text class="t" x="181" y="631">ctx</text>
<rect class="b" x="155" y="637" width="52" height="13" rx="2"/><text class="t" x="181" y="646">commands</text>
<rect class="b" x="155" y="652" width="52" height="13" rx="2"/><text class="t" x="181" y="661">type</text>
<circle class="d" cx="180" cy="671" r="1.7"/><circle class="d" cx="180" cy="676" r="1.7"/>
<rect class="b" x="155" y="684" width="52" height="13" rx="2"/><text class="t" x="181" y="693">*callbacks</text>
</g>
<text class="k" x="227" y="611">ngx_core_module_t</text>
<g id="core_module">
<rect class="b" x="226" y="622" width="62" height="13" rx="2"/><text class="t" x="257" y="631">name</text>
<rect class="b" x="226" y="637" width="62" height="13" rx="2"/><text class="t" x="257" y="646">*create_conf</text>
<rect class="b" x="226" y="652" width="62" height="13" rx="2"/><text class="t" x="257" y="661">*init_conf</text>
</g>
<g id="module_2">
<rect class="b" x="316" y="556" width="54" height="13" rx="2"/><text class="t" x="343" y="565">ctx_index</text>
<rect class="b" x="316" y="571" width="54" height="13" rx="2"/><text class="t" x="343" y="580">index</text>
<rect class="b" x="316" y="586" width="54" height="13" rx="2"/><text class="t" x="343" y="595">name</text>
<circle class="d" cx="342" cy="606" r="1.7"/><circle class="d" cx="342" cy="611" r="1.7"/>
<rect class="b" x="317" y="622" width="53" height="13" rx="2"/><text class="t" x="343" y="631">ctx</text>
<rect class="b" x="317" y="637" width="53" height="13" rx="2"/><text class="t" x="343" y="646">commands</text>
<rect class="b" x="317" y="652" width="53" height="13" rx="2"/><text class="t" x="343" y="661">type</text>
<circle class="d" cx="343" cy="671" r="1.7"/><circle class="d" cx="343" cy="676" r="1.7"/>
<rect class="b" x="317" y="684" width="53" height="13" rx="2"/><text class="t" x="343" y="693">*callbacks</text>
</g>
<text class="k" x="397" y="576">ngx_http_module_t</text>
<g id="http_module">
<rect class="b" x="396" y="586" width="79" height="13" rx="2"/><text class="t" x="435" y="595">*preconfiguration</text>
<rect class="b" x="396" y="601" width="79" height="13" rx="2"/><text class="t" x="435" y="610">*postconfiguration</text>
<rect class="b" x="396" y="616" width="79" height="13" rx="2"/><text class="t" x="435" y="625">*create_main_conf</text>
<rect class="b" x="396" y="631" width="79" height="13" rx="2"/><text class="t" x="435" y="640">*init_main_conf</text>
<rect class="b" x="396" y="646" width="79" height="13" rx="2"/><text class="t" x="435" y="655">*create_srv_conf</text>
<rect class="b" x="396" y="661" width="79" height="13" rx="2"/><text class="t" x="435" y="670">*merge_srv_conf</text>
<rect class="b" x="396" y="676" width="79" height="13" rx="2"/><text class="t" x="435" y="685">*create_loc_conf</text>
<rect class="b" x="396" y="691" width="79" height="13" rx="2"/><text class="t" x="435" y="700">*merge_loc_conf</text>
</g>

<text class="bl" x="84" y="1030">listening</text>
<text class="rd" x="142" y="1027">E</text>
<g id="listening_row">
<rect class="b" x="150" y="1028" width="55" height="14" rx="2"/><text class="t" x="177" y="1037">listening-1</text>
<rect class="b" x="207" y="1028" width="53" height="14" rx="2"/><text class="t" x="233" y="1037">listening-2</text>
<rect class="b" x="262" y="1028" width="53" height="14" rx="2"/><text class="t" x="288" y="1037">...</text>
<rect class="b" x="317" y="1028" width="55" height="14" rx="2"/><text class="t" x="344" y="1036">listening-n</text>
</g>
<text class="k" x="365" y="1060">ngx_listening_t</text>
<g id="ngx_listening">
<rect class="b" x="329" y="1068" width="62" height="14" rx="2"/><text class="t" x="360" y="1077">fd</text>
<rect class="b" x="329" y="1083" width="62" height="14" rx="2"/><text class="t" x="360" y="1092">sockaddr</text>
<rect class="b" x="329" y="1098" width="62" height="14" rx="2"/><text class="t" x="360" y="1107">handler</text>
<rect class="b" x="329" y="1113" width="62" height="14" rx="2"/><text class="t" x="360" y="1122">...</text>
<rect class="b" x="329" y="1129" width="62" height="14" rx="2"/><text class="t" x="360" y="1138">servers</text>
<rect class="b" x="329" y="1144" width="62" height="14" rx="2"/><text class="t" x="360" y="1153">connection</text>
</g>
<text class="k" x="405" y="1106">ngx_http_init_connection</text>
<text class="k" x="410" y="1123">ngx_http_port_t</text>
<g id="http_port">
<rect class="b" x="408" y="1128" width="63" height="14" rx="2"/><text class="t" x="439" y="1137">naddr</text>
<rect class="b" x="408" y="1144" width="63" height="15" rx="2"/><text class="t" x="439" y="1153">*addrs</text>
</g>
<g id="addr_row">
<rect class="b" x="333" y="1187" width="55" height="13" rx="2"/><text class="t" x="360" y="1196">addr-1</text>
<rect class="b" x="390" y="1187" width="53" height="13" rx="2"/><text class="t" x="416" y="1196">addr-2</text>
<rect class="b" x="445" y="1187" width="55" height="13" rx="2"/><text class="t" x="472" y="1196">...</text>
<rect class="b" x="502" y="1187" width="54" height="13" rx="2"/><text class="t" x="529" y="1196">addr-n</text>
</g>
<text class="k" x="330" y="1227">ngx_http_in_addr_t</text>
<g id="in_addr">
<rect class="b" x="356" y="1235" width="39" height="14" rx="2"/><text class="t" x="375" y="1244">addr</text>
<rect class="b" x="356" y="1250" width="39" height="14" rx="2"/><text class="t" x="375" y="1259">conf</text>
</g>
<g id="virtual_names">
<rect class="b" x="413" y="1249" width="82" height="14" rx="2"/><text class="t" x="454" y="1258">default_server</text>
<rect class="b" x="413" y="1265" width="82" height="14" rx="2"/><text class="t" x="454" y="1274">virtual_names</text>
</g>

<text class="bl" x="93" y="1122">ngx_http_request_t</text>
<g id="http_request">
<rect class="b" x="163" y="1128" width="68" height="14" rx="2"/><text class="t" x="197" y="1137">signature</text>
<rect class="b" x="163" y="1143" width="68" height="14" rx="2"/><text class="t" x="197" y="1152">connection</text>
<rect class="b" x="163" y="1158" width="68" height="14" rx="2"/><text class="t" x="197" y="1167">ctx</text>
<rect class="b" x="163" y="1173" width="68" height="14" rx="2"/><text class="t" x="197" y="1182">main_conf</text>
<rect class="b" x="163" y="1188" width="68" height="14" rx="2"/><text class="t" x="197" y="1197">srv_conf</text>
<rect class="b" x="163" y="1203" width="68" height="14" rx="2"/><text class="t" x="197" y="1212">loc_conf</text>
<circle class="d" cx="197" cy="1221" r="1.7"/><circle class="d" cx="197" cy="1226" r="1.7"/>
<rect class="b" x="163" y="1232" width="68" height="14" rx="2"/><text class="t" x="196" y="1241">httpconnection</text>
<circle class="d" cx="197" cy="1251" r="1.7"/><circle class="d" cx="197" cy="1256" r="1.7"/>
<rect class="b" x="163" y="1263" width="68" height="15" rx="2"/><text class="t" x="197" y="1272">locations</text>
</g>
<text class="rd" x="249" y="1197">Points to A</text>
<g id="connection_struct">
<rect class="b" x="141" y="1310" width="63" height="14" rx="2"/><text class="t" x="172" y="1319">data</text>
<rect class="b" x="141" y="1325" width="63" height="14" rx="2"/><text class="t" x="172" y="1334">read</text>
<rect class="b" x="141" y="1340" width="63" height="14" rx="2"/><text class="t" x="172" y="1349">write</text>
<rect class="b" x="141" y="1355" width="63" height="14" rx="2"/><text class="t" x="172" y="1364">fd</text>
<rect class="b" x="141" y="1370" width="63" height="14" rx="2"/><text class="t" x="172" y="1379">listening</text>
<rect class="b" x="141" y="1386" width="63" height="14" rx="2"/><text class="t" x="172" y="1395">...</text>
</g>
<text class="rn" x="220" y="1304">When it’s free, the data points to</text>
<text class="rn" x="220" y="1315">next free connection otherwise it</text>
<text class="rn" x="220" y="1326">points to  ngx_http_request_t or</text>
<text class="rn" x="220" y="1337">ngx_stream_session_t</text>
<text class="sb" x="76" y="1329">ngx_event_accept</text>
<text class="hd" x="226" y="1366">socket</text>
<text class="bl" x="76" y="1412">connections</text>
<g id="connections_row">
<rect class="b" x="143" y="1408" width="57" height="14" rx="2"/><text class="t" x="171" y="1417">connection-1</text>
<rect class="b" x="202" y="1408" width="60" height="14" rx="2"/><text class="t" x="232" y="1417">connection-2</text>
<rect class="b" x="264" y="1408" width="56" height="14" rx="2"/><text class="t" x="292" y="1417">...</text>
<rect class="b" x="322" y="1408" width="62" height="14" rx="2"/><text class="t" x="353" y="1417">connection-n</text>
</g>
<g id="stream_session">
<rect class="b" x="114" y="1440" width="68" height="13" rx="2"/><text class="t" x="148" y="1449">signature</text>
<rect class="b" x="114" y="1455" width="68" height="13" rx="2"/><text class="t" x="148" y="1464">connection</text>
<rect class="b" x="114" y="1470" width="68" height="13" rx="2"/><text class="t" x="148" y="1479">ctx</text>
<rect class="b" x="114" y="1485" width="68" height="13" rx="2"/><text class="t" x="148" y="1494">main_conf</text>
<rect class="b" x="114" y="1500" width="68" height="13" rx="2"/><text class="t" x="148" y="1509">srv_conf</text>
<rect class="b" x="114" y="1515" width="68" height="13" rx="2"/><text class="t" x="148" y="1524">upstream</text>
</g>
<text class="rd" x="60" y="1501">Points to D</text>
<g id="connection_2">
<rect class="b" x="200" y="1440" width="64" height="13" rx="2"/><text class="t" x="231" y="1449">data</text>
<rect class="b" x="200" y="1455" width="64" height="13" rx="2"/><text class="t" x="231" y="1464">read</text>
<rect class="b" x="200" y="1470" width="64" height="13" rx="2"/><text class="t" x="231" y="1479">write</text>
<rect class="b" x="200" y="1485" width="64" height="13" rx="2"/><text class="t" x="231" y="1494">fd</text>
<rect class="b" x="200" y="1500" width="64" height="13" rx="2"/><text class="t" x="231" y="1509">listening</text>
<rect class="b" x="200" y="1515" width="64" height="13" rx="2"/><text class="t" x="231" y="1524">...</text>
</g>
<text class="sb" x="152" y="1543">ngx_stream_init_connection</text>
<g id="connection_n">
<rect class="b" x="322" y="1443" width="64" height="13" rx="2"/><text class="t" x="354" y="1452">read</text>
<rect class="b" x="322" y="1458" width="64" height="13" rx="2"/><text class="t" x="354" y="1467">write</text>
<rect class="b" x="322" y="1473" width="64" height="13" rx="2"/><text class="t" x="354" y="1482">fd</text>
<rect class="b" x="322" y="1488" width="64" height="13" rx="2"/><text class="t" x="354" y="1497">listening</text>
<rect class="b" x="322" y="1503" width="64" height="14" rx="2"/><text class="t" x="354" y="1512">...</text>
</g>
<text class="bl" x="320" y="1537" font-size="6.8">ngx_http_init_connection</text>

<g id="all_sockets">
<rect class="dash" x="850" y="1092" width="388" height="288" rx="40"/>
<ellipse class="e" cx="1048" cy="1129" rx="40" ry="11"/><text class="g" x="1048" y="1132" style="fill:#e02020">ep</text>
<text class="sb" x="973" y="1145">rb_tree</text>
<ellipse class="e" cx="956" cy="1187" rx="38" ry="11"/><text class="g" x="956" y="1190">listening</text>
<ellipse class="e" cx="1061" cy="1182" rx="38" ry="11"/><text class="g" x="1061" y="1185">connected</text>
<ellipse class="e" cx="1134" cy="1226" rx="36" ry="10"/><text class="g" x="1134" y="1229">connected</text>
<ellipse class="e" cx="1034" cy="1244" rx="36" ry="11"/><text class="g" x="1034" y="1247">connected</text>
<ellipse class="e" cx="936" cy="1237" rx="36" ry="11"/><text class="g" x="936" y="1240">listening</text>
<rect class="b" x="870" y="1286" width="65" height="14" rx="2"/><text class="t" x="902" y="1295">events</text>
<rect class="b" x="870" y="1301" width="65" height="14" rx="2"/><text class="t" x="902" y="1310">data</text>
<rect class="b" x="1006" y="1337" width="64" height="14" rx="2"/><text class="t" x="1038" y="1346">events</text>
<rect class="b" x="1006" y="1352" width="64" height="14" rx="2"/><text class="t" x="1038" y="1361">data</text>
<text class="big" x="1101" y="1304" textLength="119" lengthAdjust="spacingAndGlyphs">ALL SOCKETS HANDLERS</text>
</g>
</g>
</svg>
